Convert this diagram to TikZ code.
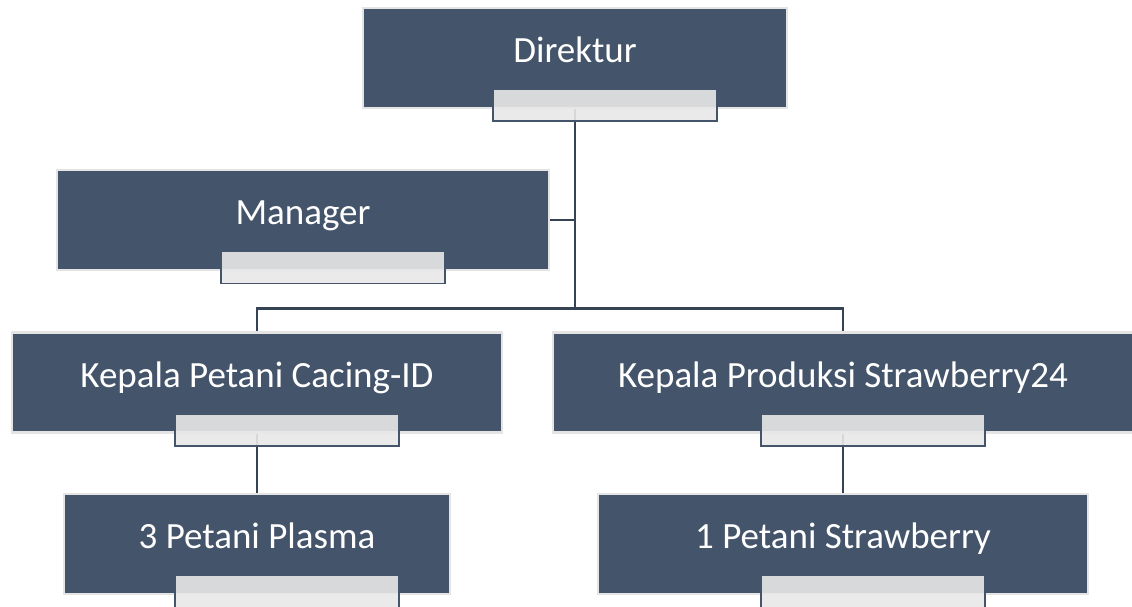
\documentclass[tikz,border=0pt]{standalone}
\usepackage{fontspec}
\setmainfont{Carlito}
\usetikzlibrary{calc,positioning}
\definecolor{slate}{HTML}{44546A}
\definecolor{rim}{HTML}{E4E4E4}
\definecolor{pale}{HTML}{E8E8E8}
\tikzset{
  unit/.style={fill=slate,draw=rim,line width=2.5pt,text=white,inner sep=0pt,
    minimum width=#1,minimum height=100pt,text height=20pt,text depth=11pt,
    font=\fontsize{37}{40}\selectfont},
  unit/.default=490pt,
  tab/.style={fill=pale,fill opacity=0.9,draw=slate,line width=1.5pt,
    minimum width=224pt,minimum height=32pt,inner sep=0pt},
  link/.style={draw=slate!80!black,line width=2.5pt},
}
\begin{document}
\begin{tikzpicture}[x=1pt,y=1pt]
  \path[use as bounding box,fill=white] (0,0) rectangle (1132,606);
  % boxes
  \node[unit=424pt] (dir) at (575,548) {Direktur};
  \node[unit=492pt] (mgr) at (303,386) {Manager};
  \node[unit] (kpc) at (257,223.5) {Kepala Petani Cacing-ID};
  \node[unit=580pt] (kps) at (843,223.5) {Kepala Produksi Strawberry24};
  \node[unit=386pt] (pp) at (257,62) {3 Petani Plasma};
  \node[unit] (ps) at (843,62) {1 Petani Strawberry};
  % connectors
  \coordinate (bus) at ($(dir.south)+(0,-199)$);
  \draw[link] (dir.south) -- (bus);
  \draw[link] (mgr.east) -- (mgr.east -| bus);
  \draw[link] (kpc.north) |- (bus) -| (kps.north);
  \draw[link] (kpc.south) -- (pp.north);
  \draw[link] (kps.south) -- (ps.north);
  % tabs
  \foreach \n in {dir,mgr,kpc,kps,pp,ps}
    \node[tab] (\n-tab) at ($(\n.south)+(30,4)$) {};
\end{tikzpicture}
\end{document}
